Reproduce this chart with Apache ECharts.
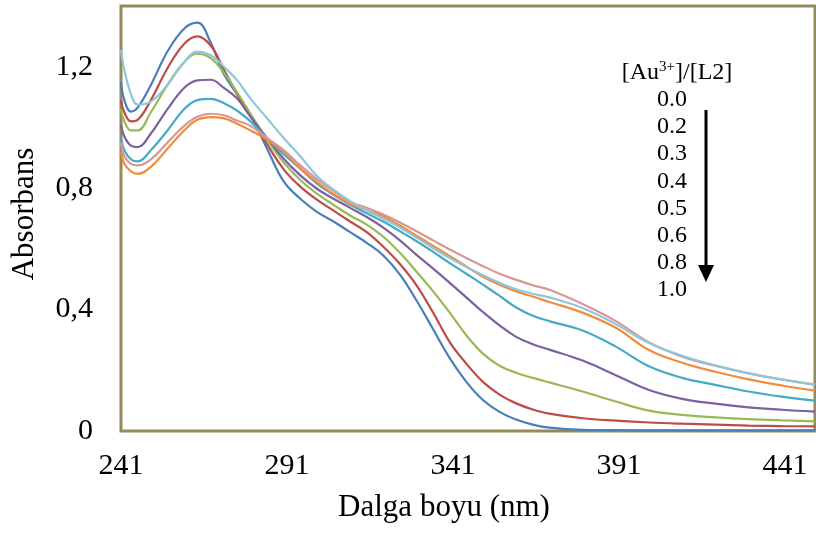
<!DOCTYPE html>
<html>
<head>
<meta charset="utf-8">
<script src="https://cdn.jsdelivr.net/npm/echarts@6/dist/echarts.min.js"></script>
<style>
  html, body { margin: 0; padding: 0; background: #ffffff; }
  #chart { width: 816px; height: 534px; }
</style>
</head>
<body>
<div id="chart"></div>
<script>
// ---- Data ----
const wavelengths = [241, 242, 244, 246, 250, 255, 260, 264, 268, 272, 276, 280, 285, 290, 295, 300, 305, 310, 315, 320, 325, 330, 335, 340, 345, 350, 355, 360, 365, 370, 380, 390, 400, 410, 420, 430, 440, 450];

const ratios = ['0.0', '0.2', '0.3', '0.4', '0.5', '0.6', '0.8', '1.0'];

const abs00 = [1.15, 1.09, 1.052, 1.065, 1.14, 1.25, 1.325, 1.345, 1.28, 1.175, 1.11, 1.04, 0.93, 0.822, 0.765, 0.722, 0.69, 0.655, 0.62, 0.578, 0.515, 0.43, 0.335, 0.24, 0.162, 0.102, 0.063, 0.038, 0.021, 0.011, 0.004, 0.003, 0.002, 0.002, 0.002, 0.002, 0.002, 0.002];
const abs02 = [1.09, 1.05, 1.02, 1.025, 1.09, 1.195, 1.275, 1.30, 1.27, 1.19, 1.11, 1.04, 0.945, 0.862, 0.805, 0.762, 0.726, 0.69, 0.655, 0.607, 0.55, 0.48, 0.39, 0.293, 0.222, 0.162, 0.12, 0.091, 0.071, 0.057, 0.042, 0.034, 0.028, 0.024, 0.021, 0.018, 0.016, 0.015];
const abs03 = [1.06, 1.02, 0.99, 0.99, 1.05, 1.14, 1.215, 1.243, 1.228, 1.18, 1.115, 1.045, 0.96, 0.885, 0.827, 0.782, 0.745, 0.71, 0.68, 0.64, 0.587, 0.525, 0.46, 0.39, 0.315, 0.255, 0.215, 0.192, 0.175, 0.16, 0.13, 0.097, 0.067, 0.053, 0.045, 0.039, 0.035, 0.032];
const abs04 = [1.01, 0.97, 0.94, 0.935, 0.98, 1.06, 1.13, 1.155, 1.157, 1.13, 1.095, 1.035, 0.965, 0.897, 0.842, 0.798, 0.765, 0.735, 0.705, 0.67, 0.628, 0.58, 0.535, 0.488, 0.44, 0.392, 0.348, 0.31, 0.286, 0.268, 0.232, 0.184, 0.135, 0.106, 0.09, 0.078, 0.07, 0.064];
const abs05 = [0.965, 0.925, 0.895, 0.888, 0.925, 0.99, 1.06, 1.09, 1.094, 1.08, 1.055, 1.02, 0.963, 0.912, 0.864, 0.815, 0.778, 0.745, 0.717, 0.69, 0.658, 0.625, 0.59, 0.553, 0.518, 0.482, 0.445, 0.407, 0.38, 0.362, 0.331, 0.278, 0.213, 0.175, 0.152, 0.13, 0.113, 0.10];
const abs06 = [0.92, 0.88, 0.855, 0.847, 0.87, 0.93, 0.99, 1.025, 1.034, 1.03, 1.012, 0.99, 0.96, 0.92, 0.865, 0.82, 0.78, 0.748, 0.727, 0.707, 0.677, 0.643, 0.61, 0.576, 0.542, 0.508, 0.482, 0.46, 0.443, 0.425, 0.39, 0.34, 0.267, 0.225, 0.195, 0.17, 0.15, 0.133];
const abs08 = [0.95, 0.905, 0.88, 0.875, 0.895, 0.95, 1.005, 1.035, 1.045, 1.04, 1.022, 1.005, 0.965, 0.925, 0.875, 0.83, 0.79, 0.755, 0.735, 0.713, 0.687, 0.658, 0.628, 0.598, 0.57, 0.543, 0.518, 0.498, 0.48, 0.465, 0.418, 0.362, 0.292, 0.245, 0.215, 0.19, 0.17, 0.153];
const abs10 = [1.255, 1.19, 1.11, 1.075, 1.085, 1.14, 1.215, 1.25, 1.238, 1.2, 1.155, 1.095, 1.03, 0.965, 0.905, 0.84, 0.795, 0.757, 0.727, 0.70, 0.67, 0.637, 0.602, 0.57, 0.54, 0.513, 0.488, 0.467, 0.452, 0.44, 0.405, 0.352, 0.29, 0.248, 0.216, 0.19, 0.17, 0.152];

const xTicks = [241, 291, 341, 391, 441];
const yTicks = [0, 0.4, 0.8, 1.2];

// ---- Styling ----
const seriesValues = [abs00, abs02, abs03, abs04, abs05, abs06, abs08, abs10];
const colors = ['#4A7EBB', '#BE4B48', '#98B954', '#7D60A0', '#46AAC5', '#F08C3A', '#D99694', '#8FC7DA'];
const FONT = "'Liberation Serif', 'Times New Roman', serif";

const chart = echarts.init(document.getElementById('chart'), null, { renderer: 'canvas' });

const series = seriesValues.map((vals, i) => ({
  name: ratios[i],
  type: 'line',
  data: wavelengths.map((w, j) => [w, vals[j]]),
  smooth: 0.4,
  symbol: 'none',
  lineStyle: { width: 2.2, color: colors[i] },
  itemStyle: { color: colors[i] },
  z: 2 + i
}));

const graphics = [
  { type: 'text', x: 25, y: 214, rotation: Math.PI / 2,
    style: { text: 'Absorbans', font: '31px ' + FONT, fill: '#000', align: 'center', verticalAlign: 'middle' } },
  { type: 'text', x: 444, y: 508,
    style: { text: 'Dalga boyu (nm)', font: '31px ' + FONT, fill: '#000', align: 'center', verticalAlign: 'middle' } },
  { type: 'text', x: 677, y: 73,
    style: { text: '[Au{sup|3+}]/[L2]', font: '24px ' + FONT, fill: '#000', align: 'center', verticalAlign: 'middle',
      rich: { sup: { font: '15px ' + FONT, fill: '#000', verticalAlign: 'top', lineHeight: 26 } } } },
  { type: 'line', shape: { x1: 706, y1: 110, x2: 706, y2: 268 }, style: { stroke: '#000', lineWidth: 3 } },
  { type: 'polygon', shape: { points: [[698, 265], [714, 265], [706, 282]] }, style: { fill: '#000' } }
];
ratios.forEach((r, i) => {
  graphics.push({ type: 'text', x: 672, y: 100 + i * 27.1,
    style: { text: r, font: '24px ' + FONT, fill: '#000', align: 'center', verticalAlign: 'middle' } });
});

chart.setOption({
  backgroundColor: '#ffffff',
  animation: false,
  grid: { left: 121, right: 1, top: 6, bottom: 103, show: true, borderColor: '#948A5C', borderWidth: 3, backgroundColor: 'transparent' },
  xAxis: {
    type: 'value', min: 241, max: 450, interval: 50,
    axisLine: { show: false }, axisTick: { show: false }, splitLine: { show: false },
    axisLabel: { customValues: xTicks, fontFamily: FONT, fontSize: 30, color: '#000', margin: 20 }
  },
  yAxis: {
    type: 'value', min: 0, max: 1.4, interval: 0.4,
    axisLine: { show: false }, axisTick: { show: false }, splitLine: { show: false },
    axisLabel: { customValues: yTicks, fontFamily: FONT, fontSize: 30, color: '#000', margin: 28,
      formatter: v => (v === 0 ? '0' : v.toFixed(1).replace('.', ',')) }
  },
  series: series,
  graphic: graphics
});
</script>
</body>
</html>
